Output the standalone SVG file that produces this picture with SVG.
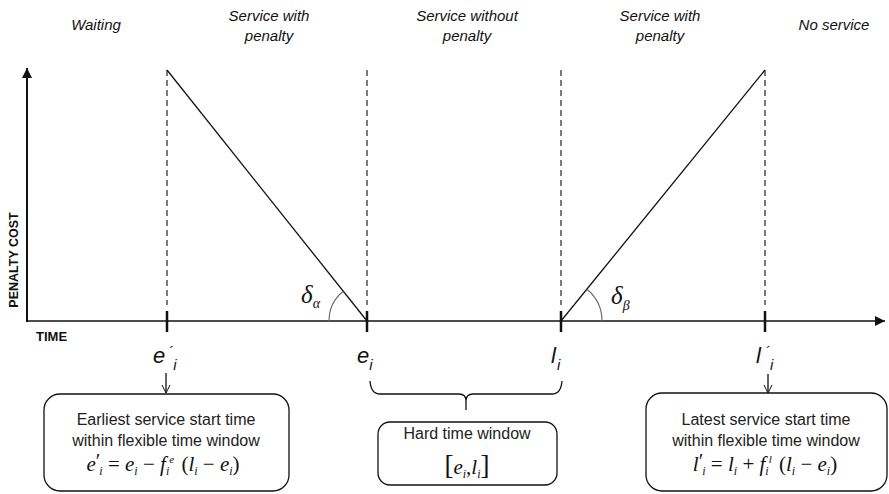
<svg xmlns="http://www.w3.org/2000/svg" width="889" height="494" viewBox="0 0 889 494">
<style>
.hdr{font-family:"Liberation Sans",Arial,sans-serif;font-style:italic;font-size:15px;fill:#111;text-anchor:middle}
.ax{font-family:"Liberation Sans",Arial,sans-serif;font-weight:bold;font-size:12.5px;fill:#111}
.lbl{font-family:"Liberation Sans",Arial,sans-serif;font-style:italic;font-size:22px;fill:#111}
.box{fill:#fff;stroke:#111;stroke-width:1.3}
.bt{font-family:"Liberation Sans",Arial,sans-serif;font-size:16px;fill:#222;text-anchor:middle}
.m{font-family:"Liberation Serif","Times New Roman",serif;font-style:italic;font-size:21px;fill:#111;text-anchor:middle}
.n{font-style:normal}
.dash{stroke:#333;stroke-width:1.3;stroke-dasharray:6 4;fill:none}
.ln{stroke:#111;stroke-width:1.3;fill:none}
.tick{stroke:#111;stroke-width:2.5}
.arc{stroke:#666;stroke-width:1.1;fill:none}
</style>
<defs>
<marker id="tri" viewBox="0 0 10 10" refX="10" refY="5" markerWidth="10" markerHeight="10" markerUnits="userSpaceOnUse" orient="auto">
<path d="M0,0 L10,5 L0,10 Z" fill="#111"/>
</marker>
<marker id="open" viewBox="0 0 10 10" refX="9" refY="5" markerWidth="10" markerHeight="10" markerUnits="userSpaceOnUse" orient="auto">
<path d="M1,1 L9,5 L1,9" fill="none" stroke="#111" stroke-width="1"/>
</marker>
</defs>

<g id="headers">
<text class="hdr" x="96" y="30">Waiting</text>
<text class="hdr" x="269" y="21">Service with</text>
<text class="hdr" x="269" y="41">penalty</text>
<text class="hdr" x="467" y="21">Service without</text>
<text class="hdr" x="467" y="41">penalty</text>
<text class="hdr" x="660" y="21">Service with</text>
<text class="hdr" x="660" y="41">penalty</text>
<text class="hdr" x="834" y="30">No service</text>
</g>

<g id="axes">
<line x1="27" y1="322" x2="27" y2="68" stroke="#111" stroke-width="2" marker-end="url(#tri)"/>
<line x1="26" y1="321" x2="885" y2="321" stroke="#111" stroke-width="1.6" marker-end="url(#tri)"/>
<text class="ax" transform="translate(18,260) rotate(-90)" text-anchor="middle">PENALTY COST</text>
<text class="ax" x="36" y="341" style="font-size:13px">TIME</text>
</g>

<g id="guides">
<line class="dash" x1="167" y1="70" x2="167" y2="305"/>
<line class="dash" x1="367" y1="70" x2="367" y2="305"/>
<line class="dash" x1="561" y1="70" x2="561" y2="305"/>
<line class="dash" x1="765" y1="70" x2="765" y2="305"/>
<line class="tick" x1="167" y1="311" x2="167" y2="332"/>
<line class="tick" x1="367" y1="311" x2="367" y2="332"/>
<line class="tick" x1="561" y1="311" x2="561" y2="332"/>
<line class="tick" x1="765" y1="311" x2="765" y2="332"/>
</g>

<g id="penalty-curve">
<line class="ln" x1="167" y1="70" x2="367" y2="321"/>
<line class="ln" x1="561" y1="321" x2="765" y2="70"/>
<path class="arc" d="M329,321 A38,38 0 0 1 343.3,291.3"/>
<path class="arc" d="M602,321 A41,41 0 0 0 586.9,289.2"/>
<text class="m" x="301" y="303" style="font-size:25px;text-anchor:start">δ<tspan dy="5" font-size="14">α</tspan></text>
<text class="m" x="611" y="304" style="font-size:25px;text-anchor:start">δ<tspan dy="6" font-size="14">β</tspan></text>
</g>

<g id="tick-labels">
<text class="lbl" x="153" y="363">e<tspan dx="3" dy="-6" font-size="15">´</tspan><tspan dx="0" dy="13" font-size="15">i</tspan></text>
<text class="lbl" x="357" y="363">e<tspan dx="0" dy="7" font-size="15">i</tspan></text>
<text class="lbl" x="551" y="363">l<tspan dx="1" dy="7" font-size="15">i</tspan></text>
<text class="lbl" x="756" y="363">l<tspan dx="4" dy="-6" font-size="15">´</tspan><tspan dx="0" dy="13" font-size="15">i</tspan></text>
</g>

<g id="connectors">
<line class="ln" x1="166" y1="373" x2="166" y2="393" stroke-width="1" marker-end="url(#open)"/>
<line class="ln" x1="768" y1="374" x2="768" y2="393" stroke-width="1" marker-end="url(#open)"/>
<path class="ln" d="M370,381 Q371,394 380,394 L459,394 Q466,394 466,401 L466,410 M466,401 Q466,394 473,394 L552,394 Q561,394 562,381"/>
</g>

<g id="box-earliest">
<rect class="box" x="44" y="394" width="245" height="97" rx="16"/>
<text class="bt" x="166" y="425">Earliest service start time</text>
<text class="bt" x="166" y="446">within flexible time window</text>
<text class="m" x="163" y="471">e<tspan class="n" dy="-3">′</tspan><tspan dx="-1" dy="7" font-size="12">i</tspan><tspan class="n" dy="-4"> = </tspan>e<tspan dy="4" font-size="12">i</tspan><tspan class="n" dy="-4"> − </tspan>f<tspan dy="4" font-size="12">i</tspan><tspan dx="0" dy="-12" font-size="11">e</tspan><tspan class="n" dx="2" dy="8"> (</tspan>l<tspan dy="4" font-size="12">i</tspan><tspan class="n" dy="-4"> − </tspan>e<tspan dy="4" font-size="12">i</tspan><tspan class="n" dy="-4">)</tspan></text>
</g>

<g id="box-hard">
<rect class="box" x="378" y="422" width="179" height="63" rx="12"/>
<text class="bt" x="467" y="439">Hard time window</text>
<text class="m" x="467" y="474"><tspan class="n" font-size="27">[</tspan>e<tspan dy="4" font-size="12">i</tspan><tspan class="n" dy="-4">,</tspan>l<tspan dy="4" font-size="12">i</tspan><tspan class="n" font-size="27" dy="-4">]</tspan></text>
</g>

<g id="box-latest">
<rect class="box" x="646" y="393" width="241" height="98" rx="16"/>
<text class="bt" x="766" y="425">Latest service start time</text>
<text class="bt" x="766" y="446">within flexible time window</text>
<text class="m" x="765" y="471">l<tspan class="n" dy="-3">′</tspan><tspan dx="-1" dy="7" font-size="12">i</tspan><tspan class="n" dy="-4"> = </tspan>l<tspan dy="4" font-size="12">i</tspan><tspan class="n" dy="-4"> + </tspan>f<tspan dy="4" font-size="12">i</tspan><tspan dx="0" dy="-12" font-size="11">l</tspan><tspan class="n" dx="2" dy="8"> (</tspan>l<tspan dy="4" font-size="12">i</tspan><tspan class="n" dy="-4"> − </tspan>e<tspan dy="4" font-size="12">i</tspan><tspan class="n" dy="-4">)</tspan></text>
</g>
</svg>
